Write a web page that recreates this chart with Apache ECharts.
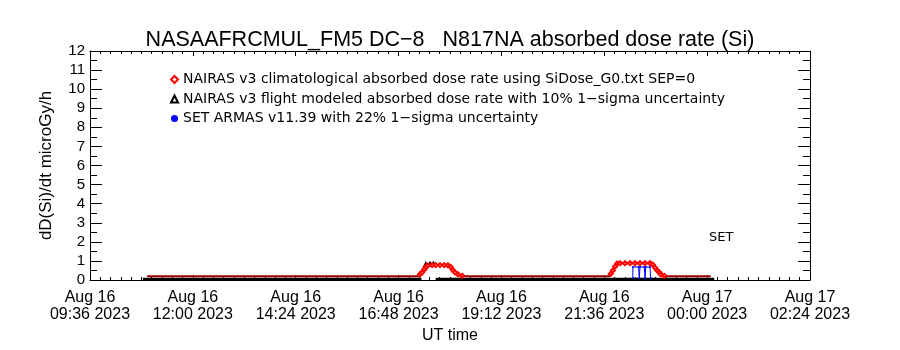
<!DOCTYPE html>
<html>
<head>
<meta charset="utf-8">
<script src="https://cdn.jsdelivr.net/npm/echarts@6/dist/echarts.min.js"></script>
<style>
html,body{margin:0;padding:0;background:#fff;}
#chart{width:900px;height:350px;}
</style>
</head>
<body>
<div id="chart"></div>
<script>
// time in minutes since Aug 16 2023 00:00 UT
const xMin = 576, xMax = 1584, xStep = 144;
const xTickLabels = ['Aug 16\n09:36 2023','Aug 16\n12:00 2023','Aug 16\n14:24 2023','Aug 16\n16:48 2023',
  'Aug 16\n19:12 2023','Aug 16\n21:36 2023','Aug 17\n00:00 2023','Aug 17\n02:24 2023'];
const yTickLabels = ['0','1','2','3','4','5','6','7','8','9','10','11','12'];

const seriesNames = [
  'NAIRAS v3 climatological absorbed dose rate using SiDose_G0.txt SEP=0',
  'NAIRAS v3 flight modeled absorbed dose rate with 10% 1\u2212sigma uncertainty',
  'SET ARMAS v11.39 with 22% 1\u2212sigma uncertainty'
];

// NAIRAS climatological (red)
const climTime = [656,700,760,820,880,940,1000,1035,1038,1041,1044,1046,1049,1055,1060,1066,1072,1077,1081,1084,1087,1091,1097,1102,
  1140,1200,1260,1303,1305,1308,1311,1314,1318,1325,1332,1339,1346,1353,1360,1364,1367,1370,1373,1375,1380,1385,1400,1420,1445];
const climVal  = [0.2,0.2,0.2,0.2,0.2,0.2,0.2,0.2,0.3,0.4,0.55,0.68,0.76,0.78,0.78,0.78,0.78,0.77,0.68,0.52,0.4,0.3,0.22,0.2,
  0.2,0.2,0.2,0.2,0.32,0.5,0.7,0.86,0.88,0.88,0.88,0.88,0.88,0.88,0.88,0.8,0.65,0.5,0.4,0.3,0.22,0.2,0.2,0.2,0.2];

// NAIRAS flight modeled (black)
const flightTime = [650,700,800,900,1000,1040,null,1046,1052,1057,null,1060,1100,1200,1300,1400,1450];
const flightVal  = [0.05,0.05,0.05,0.05,0.05,0.05,null,0.80,0.81,0.81,null,0.05,0.05,0.05,0.05,0.05,0.05];

// SET ARMAS measured (blue)
const armasTime = [1336,1336,1344,1345,1346,1352,1353,1354,1360,1361];
const armasVal  = [0.10,0.68,0.68,0.10,0.68,0.68,0.10,0.68,0.68,0.10];

// points on the quiet baseline are drawn as line only (their symbols merge into the line in the original)
function pairs(t, v, baseline) {
  return t.map((x, i) => {
    if (x === null) return null;
    if (baseline !== undefined && v[i] <= baseline) return {value: [x, v[i]], symbol: 'none'};
    return [x, v[i]];
  });
}

const F_LIB = "'Liberation Sans', Arial, sans-serif";
const F_DJV = "'DejaVu Sans', sans-serif";

const chart = echarts.init(document.getElementById('chart'), null, {renderer: 'canvas'});

const xCommon = {
  type: 'value', min: xMin, max: xMax, interval: xStep,
  axisLine: {show: true, onZero: false, lineStyle: {color: '#000', width: 1}},
  axisTick: {show: true, inside: true, length: 5, lineStyle: {color: '#000'}},
  minorTick: {show: true, splitNumber: 10, length: 3, lineStyle: {color: '#000'}},
  splitLine: {show: false}
};
const yCommon = {
  type: 'value', min: 0, max: 12, interval: 1,
  axisLine: {show: true, onZero: false, lineStyle: {color: '#000', width: 1}},
  axisTick: {show: true, inside: true, length: 12, lineStyle: {color: '#000'}},
  minorTick: {show: true, splitNumber: 2, length: 7, lineStyle: {color: '#000'}},
  splitLine: {show: false}
};

chart.setOption({
  backgroundColor: '#fff',
  animation: false,
  title: {
    text: 'NASAAFRCMUL_FM5 DC\u22128   N817NA absorbed dose rate (Si)',
    left: 'center', top: 24,
    textStyle: {fontFamily: F_LIB, fontSize: 21.5, fontWeight: 'normal', color: '#000'}
  },
  grid: {left: 90, right: 90, top: 51, bottom: 70, containLabel: false},
  legend: {
    orient: 'vertical', left: 170, top: 72, padding: 0,
    itemWidth: 7, itemHeight: 7, itemGap: 4.5,
    textStyle: {fontFamily: F_DJV, fontSize: 14, color: '#000', lineHeight: 15},
    selectedMode: false,
    data: [
      {name: seriesNames[0], icon: 'emptyDiamond', itemStyle: {color: '#ff0000'}},
      {name: seriesNames[1], icon: 'emptyTriangle', itemStyle: {color: '#000000'}},
      {name: seriesNames[2], icon: 'circle', itemStyle: {color: '#0000ff'}}
    ]
  },
  graphic: [{
    type: 'text', left: 709, top: 231,
    style: {text: 'SET', font: "13px 'DejaVu Sans', sans-serif", fill: '#000'}
  }],
  xAxis: [
    Object.assign({}, xCommon, {
      position: 'bottom',
      name: 'UT time', nameLocation: 'middle', nameGap: 48,
      nameTextStyle: {fontFamily: F_LIB, fontSize: 16, color: '#000'},
      axisLabel: {
        show: true, margin: 9, color: '#000', fontFamily: F_LIB, fontSize: 16, lineHeight: 17,
        showMinLabel: true, showMaxLabel: true,
        formatter: (v) => xTickLabels[Math.round((v - xMin) / xStep)]
      }
    }),
    Object.assign({}, xCommon, {position: 'top', axisLabel: {show: false}})
  ],
  yAxis: [
    Object.assign({}, yCommon, {
      position: 'left',
      name: 'dD(Si)/dt microGy/h', nameLocation: 'middle', nameGap: 35, nameRotate: 90,
      nameTextStyle: {fontFamily: F_LIB, fontSize: 17, color: '#000'},
      axisLabel: {
        show: true, margin: 5, color: '#000', fontFamily: F_LIB, fontSize: 15,
        showMinLabel: true, showMaxLabel: true,
        formatter: (v) => yTickLabels[Math.round(v)]
      }
    }),
    Object.assign({}, yCommon, {position: 'right', axisLabel: {show: false}})
  ],
  series: [
    {
      name: seriesNames[1], type: 'line', xAxisIndex: 0, yAxisIndex: 0,
      data: pairs(flightTime, flightVal, 0.05), connectNulls: false,
      symbol: 'emptyTriangle', symbolSize: 3, showSymbol: true,
      lineStyle: {color: '#000', width: 2.5}, itemStyle: {color: '#000'}, z: 2
    },
    {
      name: seriesNames[0], type: 'line', xAxisIndex: 0, yAxisIndex: 0,
      data: pairs(climTime, climVal, 0.2),
      symbol: 'emptyDiamond', symbolSize: 4, showSymbol: true,
      lineStyle: {color: '#9a0000', width: 2}, itemStyle: {color: '#ff0000', borderWidth: 1.2}, z: 3
    },
    {
      name: seriesNames[2], type: 'line', xAxisIndex: 0, yAxisIndex: 0,
      data: pairs(armasTime, armasVal),
      symbol: 'circle', symbolSize: 2, showSymbol: true,
      lineStyle: {color: '#0000ff', width: 1}, itemStyle: {color: '#0000ff'}, z: 4
    }
  ]
});
</script>
</body>
</html>
